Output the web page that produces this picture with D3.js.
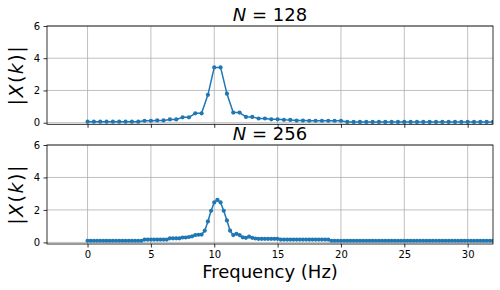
<!DOCTYPE html>
<html>
<head>
<meta charset="utf-8">
<script src="https://cdn.jsdelivr.net/npm/d3@7"></script>
<style>
  body { margin: 0; background: #fff; }
  text { font-family: "DejaVu Sans", sans-serif; }
</style>
</head>
<body>
<svg id="chart" width="500" height="290"></svg>
<script>
// ---- Data ----
const freq128 = [0,0.5,1,1.5,2,2.5,3,3.5,4,4.5,5,5.5,6,6.5,7,7.5,8,8.5,9,9.5,10,10.5,11,11.5,12,12.5,13,13.5,14,14.5,15,15.5,16,16.5,17,17.5,18,18.5,19,19.5,20,20.5,21,21.5,22,22.5,23,23.5,24,24.5,25,25.5,26,26.5,27,27.5,28,28.5,29,29.5,30,30.5,31,31.5,32];
const mag128 = [0.06,0.06,0.06,0.06,0.06,0.06,0.06,0.06,0.06,
  0.12,0.12,0.14,0.14,0.2,0.2,0.33,0.33,0.58,0.58,1.73,3.43,3.43,1.8,0.63,0.63,
  0.36,0.36,0.26,0.26,0.21,0.21,0.18,0.17,
  0.13,0.13,0.12,0.12,0.12,0.12,0.12,0.12,
  0.05,0.05,0.05,0.05,0.05,0.05,0.05,0.05,0.05,0.05,0.05,0.05,
  0.05,0.05,0.05,0.05,0.05,0.05,0.05,0.05,0.05,0.05,0.05,0.05];

const freq256 = [0,0.25,0.5,0.75,1,1.25,1.5,1.75,2,2.25,2.5,2.75,3,3.25,3.5,3.75,4,4.25,
  4.5,4.75,5,5.25,5.5,5.75,6,6.25,6.5,6.75,7,7.25,7.5,7.75,8,8.25,8.5,8.75,9,9.25,9.5,9.75,
  10,10.25,10.5,10.75,11,11.25,11.5,11.75,12,12.25,12.5,12.75,13,13.25,13.5,13.75,14,14.25,14.5,14.75,
  15,15.25,15.5,15.75,16,16.25,16.5,16.75,17,17.25,17.5,17.75,18,18.25,18.5,18.75,19,19.25,19.5,19.75,
  20,20.25,20.5,20.75,21,21.25,21.5,21.75,22,22.25,22.5,22.75,23,23.25,23.5,23.75,24,24.25,24.5,24.75,
  25,25.25,25.5,25.75,26,26.25,26.5,26.75,27,27.25,27.5,27.75,28,28.25,28.5,28.75,29,29.25,29.5,29.75,
  30,30.25,30.5,30.75,31,31.25,31.5,31.75,32];
const mag256 = [0.1,0.1,0.1,0.1,0.1,0.1,0.1,0.1,0.1,0.1,0.1,0.1,0.1,0.1,0.1,0.1,0.1,0.1,
  0.17,0.17,0.17,0.17,0.17,0.17,0.17,0.17,
  0.25,0.25,0.25,0.25,0.3,0.3,0.33,0.37,0.45,0.47,0.48,0.72,1.29,1.95,
  2.46,2.62,2.46,1.95,1.35,0.72,0.45,0.53,0.45,0.31,0.28,0.35,0.28,0.24,
  0.22,0.22,0.22,0.22,0.22,0.22,0.22,
  0.17,0.17,0.17,0.17,0.17,0.17,0.17,0.17,0.17,0.17,0.17,0.17,0.17,0.17,0.17,0.17,
  0.1,0.1,0.1,0.1,0.1,0.1,0.1,0.1,0.1,0.1,0.1,0.1,0.1,0.1,0.1,0.1,0.1,0.1,0.1,0.1,
  0.1,0.1,0.1,0.1,0.1,0.1,0.1,0.1,0.1,0.1,0.1,0.1,0.1,0.1,0.1,0.1,0.1,0.1,0.1,0.1,
  0.1,0.1,0.1,0.1,0.1,0.1,0.1,0.1,0.1,0.1,0.1,0.1];

const xTicks = [0,5,10,15,20,25,30];
const yTicks = [0,2,4,6];
const titles = ["128", "256"];

// ---- Layout ----
const svg = d3.select("#chart");
const L = 47, R = 493;
const panels = [
  {top: 26, bottom: 124.3, f: freq128, m: mag128, title: titles[0], showX: false},
  {top: 145, bottom: 244, f: freq256, m: mag256, title: titles[1], showX: true}
];
const color = "#1f77b4";
const x = d3.scaleLinear().domain([-3.2, 32]).range([L, R]);

panels.forEach((p, i) => {
  const y = d3.scaleLinear().domain([-0.1, 6]).range([p.bottom, p.top]);
  const g = svg.append("g");

  const clipId = "clip" + i;
  svg.append("clipPath").attr("id", clipId)
    .append("rect").attr("x", L).attr("y", p.top).attr("width", R - L).attr("height", p.bottom - p.top);

  // grid
  g.selectAll(".gx").data(xTicks).enter().append("line")
    .attr("x1", d => x(d)).attr("x2", d => x(d))
    .attr("y1", p.top).attr("y2", p.bottom)
    .attr("stroke", "#b0b0b0").attr("stroke-width", 0.8);
  g.selectAll(".gy").data(yTicks).enter().append("line")
    .attr("x1", L).attr("x2", R)
    .attr("y1", d => y(d)).attr("y2", d => y(d))
    .attr("stroke", "#b0b0b0").attr("stroke-width", 0.8);

  // data
  const data = p.f.map((fv, k) => [fv, p.m[k]]);
  const plot = g.append("g").attr("clip-path", `url(#${clipId})`);
  plot.append("path").datum(data)
    .attr("fill", "none").attr("stroke", color).attr("stroke-width", 1.5)
    .attr("stroke-linejoin", "round")
    .attr("d", d3.line().x(d => x(d[0])).y(d => y(d[1])));
  plot.selectAll("circle").data(data).enter().append("circle")
    .attr("cx", d => x(d[0])).attr("cy", d => y(d[1])).attr("r", 2.1)
    .attr("fill", color);

  // axes
  const xAxis = d3.axisBottom(x).tickValues(xTicks).tickSize(3.5).tickPadding(3.5)
    .tickFormat(p.showX ? d3.format("d") : () => "");
  const gx = svg.append("g").attr("transform", `translate(0,${p.bottom})`).call(xAxis);
  const yAxis = d3.axisLeft(y).tickValues(yTicks).tickSize(3.5).tickPadding(3.5).tickFormat(d3.format("d"));
  const gy = svg.append("g").attr("transform", `translate(${L},0)`).call(yAxis);
  [gx, gy].forEach(a => {
    a.select(".domain").remove();
    a.selectAll(".tick line").attr("stroke", "#000").attr("stroke-width", 0.8);
    a.selectAll(".tick text").attr("font-size", 10).attr("fill", "#000")
      .attr("font-family", "DejaVu Sans");
  });

  // frame
  svg.append("rect").attr("x", L).attr("y", p.top).attr("width", R - L).attr("height", p.bottom - p.top)
    .attr("fill", "none").attr("stroke", "#000").attr("stroke-width", 0.8);

  // title
  const t = svg.append("text").attr("x", (L + R) / 2).attr("y", p.top - 5)
    .attr("text-anchor", "middle").attr("font-size", 18).attr("fill", "#000");
  t.append("tspan").attr("font-style", "italic").text("N");
  t.append("tspan").text(" = " + p.title);

  // y label
  const yl = svg.append("text")
    .attr("transform", `translate(23,${(p.top + p.bottom) / 2}) rotate(-90)`)
    .attr("text-anchor", "middle").attr("font-size", 19).attr("fill", "#000")
    .attr("letter-spacing", 1.5);
  yl.append("tspan").text("|");
  yl.append("tspan").attr("font-style", "italic").text("X");
  yl.append("tspan").text("(");
  yl.append("tspan").attr("font-style", "italic").text("k");
  yl.append("tspan").text(")|");
});

svg.append("text").attr("x", (L + R) / 2).attr("y", 278)
  .attr("text-anchor", "middle").attr("font-size", 18).attr("fill", "#000")
  .text("Frequency (Hz)");
</script>
</body>
</html>
